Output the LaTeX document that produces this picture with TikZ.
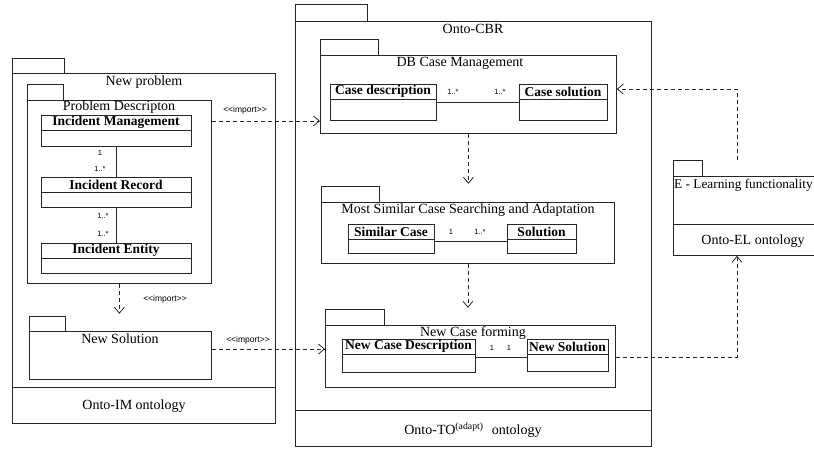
\documentclass[tikz,border=0pt]{standalone}
\usepackage{fontspec}
\setmainfont{Liberation Serif}
\newfontfamily\lsans{Liberation Sans}
\usepackage{tikz}
\usetikzlibrary{positioning,arrows.meta}

\begin{document}
\begin{tikzpicture}[x=1pt,y=-1pt,
  pkgbox/.style={draw=\cLine, line width=\lw, anchor=north west, inner sep=0pt},
  clshead/.style={draw=\cLine, line width=\lw, anchor=north, inner sep=0pt, outer sep=0pt, minimum height=15pt, font=\fontsize{13.5}{14}\selectfont\bfseries},
  clsbody/.style={draw=\cLine, line width=\lw, inner sep=0pt, outer sep=0pt},
  assoc/.style={draw=\cLine, line width=\lw},
  dep/.style={draw=\cLine, line width=\lw, dash pattern=on 4pt off 3pt, -{Straight Barb[length=6pt,width=10pt]}},
  ttl/.style={\cText, inner sep=0pt, font=\fontsize{14}{15}\selectfont},
  mult/.style={\cText, inner sep=0pt, font=\lsans\fontsize{7.5}{8}\selectfont},
  stereo/.style={\cText, inner sep=0pt, font=\lsans\fontsize{8.5}{9}\selectfont}]
\def\cLine{black!85}
\def\cText{black}
\def\lw{0.8pt}
\clip (0,0) rectangle (814,448);
\draw[\cLine, line width=\lw] (12,58) rectangle (64,73);
\node[pkgbox, minimum width=263pt, minimum height=350pt] (newprob) at (12,73) {};
\draw[\cLine, line width=\lw] (12,387) -- (275,387);
\node[ttl] (newprobT) at (144,82) {New problem};
\node[ttl] (imontoT) at (134,406) {Onto-IM ontology};
\draw[\cLine, line width=\lw] (27,84) rectangle (63,100);
\node[pkgbox, minimum width=184pt, minimum height=183pt] (pdesc) at (27,100) {};
\node[ttl] (pdescT) at (119,107) {Problem Descripton};
\node[clshead, minimum width=150pt] (im) at (116,115) {Incident Management};
\node[clsbody, minimum width=150pt, minimum height=16pt, below=0pt of im] (imB) {};
\node[clshead, minimum width=150pt] (ir) at (116,177) {Incident Record};
\node[clsbody, minimum width=150pt, minimum height=15pt, below=0pt of ir] (irB) {};
\node[clshead, minimum width=150pt] (ie) at (116,243) {Incident Entity};
\node[clsbody, minimum width=150pt, minimum height=15pt, below=0pt of ie] (ieB) {};
\draw[assoc] (imB.south) -- (ir.north);
\draw[assoc] (irB.south) -- (ie.north);
\node[mult] (m1) at (100,153) {1};
\node[mult] (m2) at (100,169) {1..*};
\node[mult] (m3) at (103,216) {1..*};
\node[mult] (m4) at (103,234) {1..*};
\draw[\cLine, line width=\lw] (29,316) rectangle (65,331);
\node[pkgbox, minimum width=182pt, minimum height=48pt] (newsol) at (29,331) {};
\node[ttl] (newsolT) at (120,339) {New Solution};
\draw[dep] (pdesc.south) -- ++(0,30);
\node[stereo] (imp1) at (165,299) {<<import>>};
\draw[\cLine, line width=\lw] (295,4) rectangle (367,21);
\node[pkgbox, minimum width=356pt, minimum height=425pt] (cbr) at (295,21) {};
\draw[\cLine, line width=\lw] (295,410) -- (651,410);
\node[ttl] (cbrT) at (473,29) {Onto-CBR};
\node[ttl] (toontoT) at (473,430) {Onto-TO\textsuperscript{(adapt)}\,\, ontology};
\draw[\cLine, line width=\lw] (320,39) rectangle (378,55);
\node[pkgbox, minimum width=296pt, minimum height=78pt] (dbm) at (320,55) {};
\node[ttl] (dbmT) at (460,63) {DB Case Management};
\node[clshead, minimum width=106pt] (cd) at (383,84) {Case description};
\node[clsbody, minimum width=106pt, minimum height=21pt, below=0pt of cd] (cdB) {};
\node[clshead, minimum width=88pt] (cs) at (563,84) {Case solution};
\node[clsbody, minimum width=88pt, minimum height=21pt, below=0pt of cs] (csB) {};
\draw[assoc] (cdB.east |- 0,102) -- (csB.west |- 0,102);
\node[mult] (m5) at (453,92) {1..*};
\node[mult] (m6) at (500,92) {1..*};
\draw[\cLine, line width=\lw] (321,186) rectangle (379,202);
\node[pkgbox, minimum width=293pt, minimum height=61pt] (msc) at (321,202) {};
\node[ttl] (mscT) at (468,210) {Most Similar Case Searching and Adaptation};
\node[clshead, minimum width=86pt] (sc) at (391,224) {Similar Case};
\node[clsbody, minimum width=86pt, minimum height=14pt, below=0pt of sc] (scB) {};
\node[clshead, minimum width=69pt] (sol) at (541.5,224) {Solution};
\node[clsbody, minimum width=69pt, minimum height=14pt, below=0pt of sol] (solB) {};
\draw[assoc] (scB.east |- 0,241) -- (solB.west |- 0,241);
\node[mult] (m7) at (451,232) {1};
\node[mult] (m8) at (480,232) {1..*};
\draw[\cLine, line width=\lw] (325,309) rectangle (384,325);
\node[pkgbox, minimum width=290pt, minimum height=62pt] (ncf) at (325,325) {};
\node[ttl] (ncfT) at (473,333) {New Case forming};
\node[clshead, minimum width=133pt] (ncd) at (408.5,339) {New Case Description};
\node[clsbody, minimum width=133pt, minimum height=18pt, below=0pt of ncd] (ncdB) {};
\node[clshead, minimum width=81pt] (ns) at (567.5,339) {New Solution};
\node[clsbody, minimum width=81pt, minimum height=17pt, below=0pt of ns] (nsB) {};
\draw[assoc] (ncdB.east |- 0,357) -- (nsB.west |- 0,357);
\node[mult] (m9) at (492,348) {1};
\node[mult] (m10) at (509,348) {1};
\draw[dep] (dbm.south) -- ++(0,50);
\draw[dep] (msc.south) -- ++(0,44);
\draw[dep] (pdesc.east |- 0,121) -- (dbm.west |- 0,121);
\node[stereo] (imp2) at (245,110) {<<import>>};
\draw[dep] (newsol.east |- 0,349) -- (ncf.west |- 0,349);
\node[stereo] (imp3) at (248,340) {<<import>>};
\draw[\cLine, line width=\lw] (673,160) rectangle (702,176);
\node[pkgbox, minimum width=157pt, minimum height=79pt] (el) at (673,176) {};
\draw[\cLine, line width=\lw] (673,224) -- (830,224);
\node[ttl, anchor=west, font=\fontsize{13.3}{14}\selectfont] (elT) at (674,185) {E - Learning functionality};
\node[ttl] (elontoT) at (753,241) {Onto-EL ontology};
\coordinate (elTop) at (737,160);
\draw[dep] (elTop) |- (dbm.east |- 0,89);
\draw[dep] (ncf.east |- 0,357) -| (el.south -| elTop);
\end{tikzpicture}
\end{document}
